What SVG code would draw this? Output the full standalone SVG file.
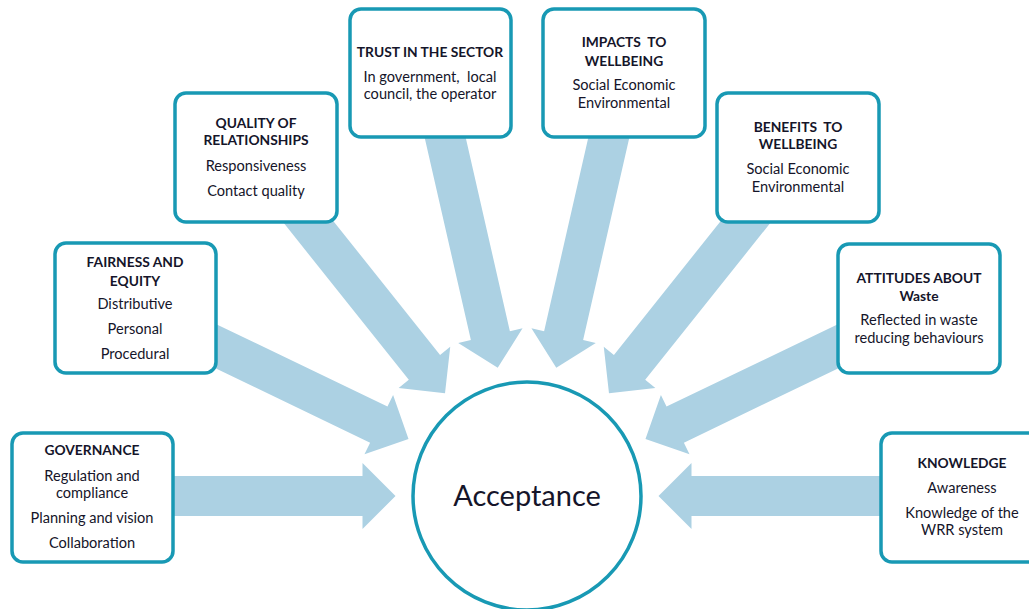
<svg xmlns="http://www.w3.org/2000/svg" xmlns:xlink="http://www.w3.org/1999/xlink" width="1029" height="609" viewBox="0 0 1029 609">
<style>
.box{fill:#fff;stroke:#1899b4;stroke-width:3.5}
.arrow{fill:#acd1e3}
text{font-family:Lato,"Open Sans","Liberation Sans",sans-serif;font-size:14.6px;fill:#15152a;text-anchor:middle;white-space:pre}
.h{font-weight:bold;font-size:13.8px}
.big{font-size:29px}
</style>
<defs>
<path id="arr" class="arrow" d="M -131.5 0 L -164.5 -33 L -164.5 -20 L -380 -20 L -380 20 L -164.5 20 L -164.5 33 Z"/>
</defs>
<rect width="1029" height="609" fill="#fff"/>
<g id="connectors">
<use xlink:href="#arr" href="#arr" transform="translate(527 496) rotate(0)"/>
<use xlink:href="#arr" href="#arr" transform="translate(527 496) rotate(25.71)"/>
<use xlink:href="#arr" href="#arr" transform="translate(527 496) rotate(51.43)"/>
<use xlink:href="#arr" href="#arr" transform="translate(527 496) rotate(77.14)"/>
<use xlink:href="#arr" href="#arr" transform="translate(527 496) rotate(102.86)"/>
<use xlink:href="#arr" href="#arr" transform="translate(527 496) rotate(128.57)"/>
<use xlink:href="#arr" href="#arr" transform="translate(527 496) rotate(154.29)"/>
<use xlink:href="#arr" href="#arr" transform="translate(527 496) rotate(180)"/>
</g>
<g id="acceptance">
<circle cx="527" cy="496" r="114" fill="#fff" stroke="#1899b4" stroke-width="3.5"/>
<text class="big" x="527" y="506">Acceptance</text>
</g>
<g id="governance">
<rect class="box" x="12" y="433" width="161" height="129" rx="11"/>
<text class="h" x="92" y="455">GOVERNANCE</text>
<text x="92" y="481">Regulation and</text>
<text x="92" y="498">compliance</text>
<text x="92" y="523">Planning and vision</text>
<text x="92" y="548">Collaboration</text>
</g>
<g id="fairness">
<rect class="box" x="55" y="243" width="161" height="130" rx="11"/>
<text class="h" x="135" y="267">FAIRNESS AND</text>
<text class="h" x="135" y="286">EQUITY</text>
<text x="135" y="309">Distributive</text>
<text x="135" y="334">Personal</text>
<text x="135" y="359">Procedural</text>
</g>
<g id="quality">
<rect class="box" x="175" y="93" width="162" height="129" rx="11"/>
<text class="h" x="256" y="128">QUALITY OF</text>
<text class="h" x="256" y="145">RELATIONSHIPS</text>
<text x="256" y="171">Responsiveness</text>
<text x="256" y="196">Contact quality</text>
</g>
<g id="trust">
<rect class="box" x="350" y="9" width="161" height="128" rx="11"/>
<text class="h" x="430" y="57">TRUST IN THE SECTOR</text>
<text x="430" y="82">In government,  local</text>
<text x="430" y="99">council, the operator</text>
</g>
<g id="impacts">
<rect class="box" x="543" y="9" width="162" height="128" rx="11"/>
<text class="h" x="624" y="47">IMPACTS  TO</text>
<text class="h" x="624" y="66">WELLBEING</text>
<text x="624" y="90">Social Economic</text>
<text x="624" y="108">Environmental</text>
</g>
<g id="benefits">
<rect class="box" x="717" y="93" width="162" height="129" rx="11"/>
<text class="h" x="798" y="132">BENEFITS  TO</text>
<text class="h" x="798" y="149">WELLBEING</text>
<text x="798" y="174">Social Economic</text>
<text x="798" y="192">Environmental</text>
</g>
<g id="attitudes">
<rect class="box" x="838" y="244" width="162" height="129" rx="11"/>
<text class="h" x="919" y="283">ATTITUDES ABOUT</text>
<text class="h" x="919" y="301">Waste</text>
<text x="919" y="325">Reflected in waste</text>
<text x="919" y="343">reducing behaviours</text>
</g>
<g id="knowledge">
<rect class="box" x="881" y="433" width="162" height="129" rx="11"/>
<text class="h" x="962" y="468">KNOWLEDGE</text>
<text x="962" y="493">Awareness</text>
<text x="962" y="518">Knowledge of the</text>
<text x="962" y="535">WRR system</text>
</g>
</svg>
